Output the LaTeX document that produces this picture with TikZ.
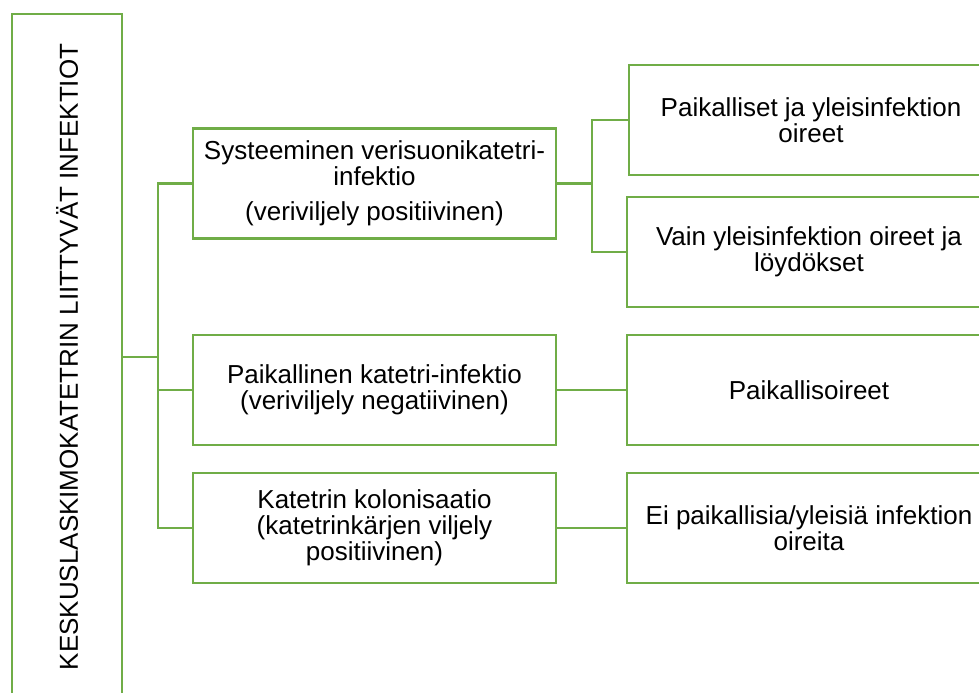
\documentclass[tikz,border=0pt]{standalone}
\usepackage{fontspec}
\setmainfont{Liberation Sans}
\usetikzlibrary{positioning}
\definecolor{leafgreen}{RGB}{112,173,71}
\tikzset{
  box/.style={draw=leafgreen, line width=1.7pt, fill=white, align=center,
    inner sep=0pt, minimum width=272.5pt, minimum height=82.5pt,
    font=\fontsize{19.5}{19.5}\selectfont},
  link/.style={draw=leafgreen, line width=1.7pt}
}

\begin{document}
\begin{tikzpicture}[x=0.75pt, y=-0.75pt]
			%%%%% FRAME %%%%%
			\useasboundingbox (0, 0) rectangle (979, 693);
			\clip (0, 0) rectangle (979, 693);
			
			%%%%% MAIN BOX %%%%%
			\node[box, rotate=90, minimum width=514.5pt] (main) at (67, 357) {KESKUSLASKIMOKATETRIN LIITTYVÄT INFEKTIOT};
			
			%%%%% MIDDLE COLUMN %%%%%
			\node[box] (sys) at (374.5, 183.5) {Systeeminen verisuonikatetri-\\infektio\\[6.5pt](veriviljely positiivinen)};
			\node[box] (pai) at (374.5, 390) {Paikallinen katetri-infektio\\(veriviljely negatiivinen)};
			\node[box] (kol) at (374.5, 528) {Katetrin kolonisaatio\\(katetrinkärjen viljely\\positiivinen)};
			
			%%%%% RIGHT COLUMN %%%%%
			\node[box] (yle) at (811, 120) {Paikalliset ja yleisinfektion\\oireet};
			\node[box] (vain) at (809, 252) {Vain yleisinfektion oireet ja\\löydökset};
			\node[box] (oir) at (809, 390) {Paikallisoireet};
			\node[box] (ei) at (809, 528) {Ei paikallisia/yleisiä infektion\\oireita};
			
			%%%%% CONNECTORS %%%%%
			\coordinate (trunk) at (158, 357);
			\coordinate (fork) at (592, 183.5);
			\draw[link] (main.south) -- (trunk);
			\draw[link] (sys.west) -| (trunk) |- (kol.west);
			\draw[link] (trunk |- pai.west) -- (pai.west);
			
			\draw[link] (sys.east) -- (fork);
			\draw[link] (yle.west) -| (fork) |- (vain.west);
			\draw[link] (pai.east) -- (oir.west);
			\draw[link] (kol.east) -- (ei.west);
			%%%%% END %%%%%
		\end{tikzpicture}
\end{document}
